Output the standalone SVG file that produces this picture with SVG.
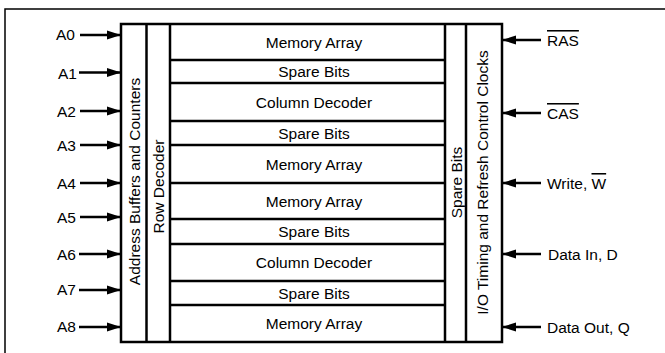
<svg xmlns="http://www.w3.org/2000/svg" width="665" height="353" viewBox="0 0 665 353">
<defs>
<marker id="ah" markerUnits="userSpaceOnUse" markerWidth="15" markerHeight="10" refX="14" refY="5" orient="auto">
<path d="M0,0.5 L14,5 L0,9.5 Z" fill="#000"/>
</marker>
<style>
.t{font-family:"Liberation Sans",Arial,sans-serif;font-size:15.5px;fill:#000}
.c{text-anchor:middle;dominant-baseline:central}
.l{text-anchor:end;dominant-baseline:central}
.r{text-anchor:start;dominant-baseline:central}
.box{fill:#fff;stroke:#000;stroke-width:2.5}
.div{stroke:#000;stroke-width:2.5;fill:none}
.arr{stroke:#000;stroke-width:2.5;fill:none;marker-end:url(#ah)}
.frame{stroke:#000;stroke-width:1.5;fill:none}
</style>
</defs>
<rect width="665" height="353" fill="#fff"/>
<path class="frame" d="M5,353 L5,9 L665,9"/>

<g id="block">
<rect class="box" x="121" y="24" width="381" height="318"/>
</g>
<g id="address-buffers">
<line class="div" x1="146.5" y1="24" x2="146.5" y2="342"/>
<text class="t c" transform="translate(134,181.5) rotate(-90)">Address Buffers and Counters</text>
</g>
<g id="row-decoder">
<line class="div" x1="170" y1="24" x2="170" y2="342"/>
<text class="t c" transform="translate(158.5,186.5) rotate(-90)">Row Decoder</text>
</g>
<g id="spare-bits-col">
<line class="div" x1="445" y1="24" x2="445" y2="342"/>
<text class="t c" transform="translate(456,182.5) rotate(-90)">Spare Bits</text>
</g>
<g id="io-timing">
<line class="div" x1="466" y1="24" x2="466" y2="342"/>
<text class="t c" transform="translate(482,182.5) rotate(-90)">I/O Timing and Refresh Control Clocks</text>
</g>

<g id="row-lines">
<line class="div" x1="170" y1="60" x2="445" y2="60"/>
<line class="div" x1="170" y1="83" x2="445" y2="83"/>
<line class="div" x1="170" y1="121" x2="445" y2="121"/>
<line class="div" x1="170" y1="145" x2="445" y2="145"/>
<line class="div" x1="170" y1="183" x2="445" y2="183"/>
<line class="div" x1="170" y1="219" x2="445" y2="219"/>
<line class="div" x1="170" y1="244" x2="445" y2="244"/>
<line class="div" x1="170" y1="281" x2="445" y2="281"/>
<line class="div" x1="170" y1="305" x2="445" y2="305"/>
</g>
<g id="mem1"><text class="t c" x="314" y="42">Memory Array</text></g>
<g id="spare1"><text class="t c" x="314" y="71.5">Spare Bits</text></g>
<g id="coldec1"><text class="t c" x="314" y="102">Column Decoder</text></g>
<g id="spare2"><text class="t c" x="314" y="133">Spare Bits</text></g>
<g id="mem2"><text class="t c" x="314" y="164">Memory Array</text></g>
<g id="mem3"><text class="t c" x="314" y="201">Memory Array</text></g>
<g id="spare3"><text class="t c" x="314" y="231.5">Spare Bits</text></g>
<g id="coldec2"><text class="t c" x="314" y="262.5">Column Decoder</text></g>
<g id="spare4"><text class="t c" x="314" y="293">Spare Bits</text></g>
<g id="mem4"><text class="t c" x="314" y="323.5">Memory Array</text></g>

<g id="labels-left">
<text class="t l" x="75" y="34">A0</text>
<text class="t l" x="77" y="73">A1</text>
<text class="t l" x="76" y="111">A2</text>
<text class="t l" x="76" y="145">A3</text>
<text class="t l" x="76" y="183">A4</text>
<text class="t l" x="76" y="217">A5</text>
<text class="t l" x="76" y="254">A6</text>
<text class="t l" x="76" y="289">A7</text>
<text class="t l" x="76" y="326">A8</text>
</g>
<g id="labels-right">
<text class="t r" x="547" y="40"><tspan style="text-decoration:overline">RAS</tspan></text>
<text class="t r" x="547" y="113"><tspan style="text-decoration:overline">CAS</tspan></text>
<text class="t r" x="547" y="183">Write, <tspan style="text-decoration:overline">W</tspan></text>
<text class="t r" x="548" y="254">Data In, D</text>
<text class="t r" x="547" y="327">Data Out, Q</text>
</g>

<g id="connectors">
<line class="arr" x1="80" y1="35" x2="121" y2="35"/>
<line class="arr" x1="79" y1="72.5" x2="121" y2="72.5"/>
<line class="arr" x1="80" y1="111" x2="121" y2="111"/>
<line class="arr" x1="80" y1="145" x2="121" y2="145"/>
<line class="arr" x1="80" y1="183" x2="121" y2="183"/>
<line class="arr" x1="80" y1="217" x2="121" y2="217"/>
<line class="arr" x1="79" y1="254" x2="121" y2="254"/>
<line class="arr" x1="79" y1="290" x2="121" y2="290"/>
<line class="arr" x1="79" y1="327" x2="121" y2="327"/>
<line class="arr" x1="541" y1="40" x2="502" y2="40"/>
<line class="arr" x1="541" y1="113" x2="502" y2="113"/>
<line class="arr" x1="541" y1="183" x2="502" y2="183"/>
<line class="arr" x1="541" y1="254" x2="502" y2="254"/>
<line class="arr" x1="541" y1="327" x2="502" y2="327"/>
</g>
</svg>
